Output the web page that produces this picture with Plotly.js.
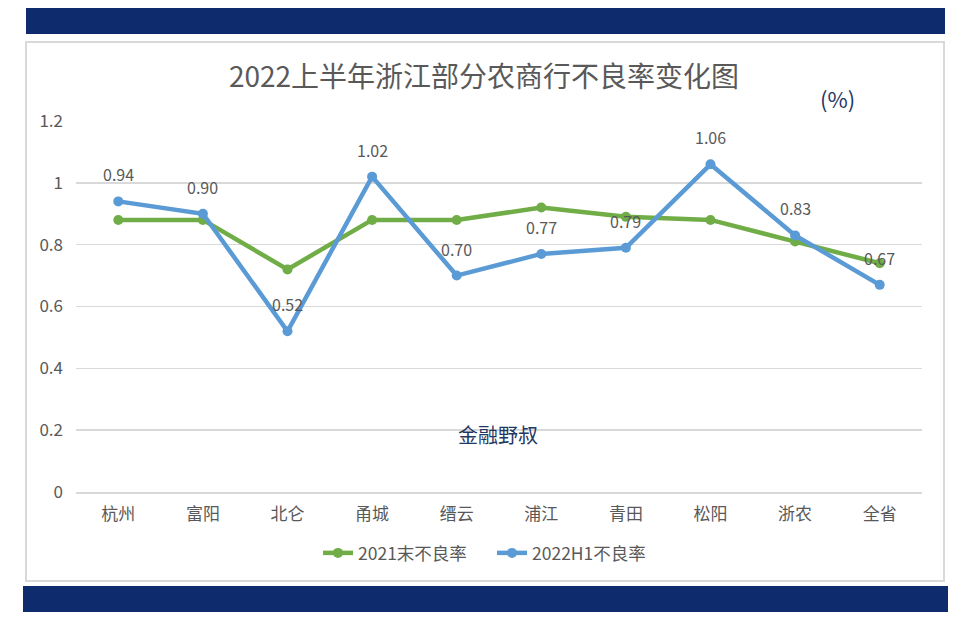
<!DOCTYPE html>
<html>
<head>
<meta charset="utf-8">
<script src="https://cdn.plot.ly/plotly-3.0.1.min.js"></script>
<style>html,body{margin:0;padding:0;background:#fff;}#chart{width:971px;height:617px;}</style>
</head>
<body>
<div id="chart"></div>
<script>
const categories = ["杭州","富阳","北仑","甬城","缙云","浦江","青田","松阳","浙农","全省"];
const npl2021 = [0.88,0.88,0.72,0.88,0.88,0.92,0.89,0.88,0.81,0.74];
const npl2022H1 = [0.94,0.90,0.52,1.02,0.70,0.77,0.79,1.06,0.83,0.67];
const seriesNames = ["2021末不良率","2022H1不良率"];
const yTicks = [0,0.2,0.4,0.6,0.8,1,1.2];
const yTickText = ["0","0.2","0.4","0.6","0.8","1","1.2"];

const FONT = '"Noto Sans CJK SC", "Noto Sans", sans-serif';
const GREEN = '#70ad47', BLUE = '#5b9bd5', NAVY = '#0e2b6e';

// plot area pixels: x 76..922, y 121..492
const L=76,R=922,T=121,B=492;
const px = v => (v-L)/(R-L);
const py = v => (B-v)/(B-T);

const traces = [
  {x:categories, y:npl2021, name:seriesNames[0], type:'scatter', mode:'lines+markers',
   line:{color:GREEN,width:4.5}, marker:{color:GREEN,size:10}},
  {x:categories, y:npl2022H1, name:seriesNames[1], type:'scatter', mode:'lines+markers',
   line:{color:BLUE,width:4.5}, marker:{color:BLUE,size:10}}
];

const annotations = npl2022H1.map((v,i)=>({
  x:categories[i], y:v, xref:'x', yref:'y', text:v.toFixed(2), showarrow:false,
  yshift:27, font:{family:FONT,size:16,color:'#595959'}
}));
annotations.push({xref:'paper',yref:'paper',x:px(837),y:py(98),xanchor:'center',yanchor:'middle',text:'(%)',showarrow:false,
  font:{family:FONT,size:22,color:'#1f3864'}});
annotations.push({xref:'paper',yref:'paper',x:px(498),y:py(434),xanchor:'center',yanchor:'middle',text:'金融野叔',showarrow:false,
  font:{family:FONT,size:20,color:'#1f3864'}});

const layout = {
  width:971, height:617,
  paper_bgcolor:'#ffffff', plot_bgcolor:'#ffffff',
  margin:{l:L, r:971-R, t:T, b:617-B, autoexpand:false},
  title:{text:'2022上半年浙江部分农商行不良率变化图', x:484/971, xanchor:'center', y:1-77/617, yanchor:'middle',
    font:{family:FONT,size:28,color:'#595959'}},
  xaxis:{type:'category', range:[-0.5,9.5], showgrid:false, zeroline:false, automargin:false,
    showline:true, linecolor:'#d9d9d9', linewidth:1.5, ticks:'', tickangle:0,
    tickfont:{family:FONT,size:17,color:'#595959'}, ticklabelstandoff:6},
  yaxis:{range:[0,1.2], tickvals:yTicks, ticktext:yTickText, showgrid:true, gridcolor:'#d9d9d9', gridwidth:1.5,
    zeroline:false, showline:false, ticks:'', automargin:false,
    tickfont:{family:FONT,size:17,color:'#595959'}, ticklabelstandoff:12},
  showlegend:true,
  legend:{orientation:'h', x:px(492), xanchor:'center', y:py(553), yanchor:'middle', entrywidth:129, entrywidthmode:'pixels',
    font:{family:FONT,size:17.5,color:'#595959'}, bgcolor:'rgba(0,0,0,0)'},
  annotations:annotations,
  shapes:[
    {type:'rect',xref:'paper',yref:'paper',x0:px(26),x1:px(945),y0:py(34),y1:py(8),fillcolor:NAVY,line:{width:0},layer:'below'},
    {type:'rect',xref:'paper',yref:'paper',x0:px(26),x1:px(944),y0:py(581),y1:py(42),fillcolor:'rgba(0,0,0,0)',line:{color:'#d9d9d9',width:2},layer:'below'},
    {type:'rect',xref:'paper',yref:'paper',x0:px(23),x1:px(948),y0:py(612),y1:py(586),fillcolor:NAVY,line:{width:0},layer:'below'}
  ]
};

Plotly.newPlot('chart', traces, layout, {displayModeBar:false, staticPlot:true});
</script>
</body>
</html>
